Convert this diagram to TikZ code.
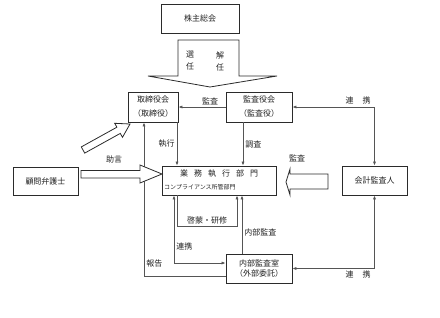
\documentclass[tikz,border=0pt]{standalone}
\usepackage{fontspec}
\setmainfont{Noto Sans CJK JP}
\usepackage{xcolor}
\usetikzlibrary{arrows.meta,calc,positioning}
\definecolor{boxBlack}{HTML}{2B2B2B}
\definecolor{lineGray}{HTML}{555555}
\definecolor{textDark}{HTML}{222222}

\begin{document}
\begin{tikzpicture}[x=1pt,y=-1pt,>={Latex[length=4pt,width=3.2pt]},
    orgbox/.style={draw=boxBlack,line width=0.9pt,fill=white,align=center,
      font=\fontsize{8}{10}\selectfont,text=textDark,inner sep=0pt},
    link/.style={lineGray,line width=0.7pt},
    tag/.style={font=\fontsize{8}{12}\selectfont,text=textDark,inner sep=2pt},
    hollow/.style={draw=boxBlack,line width=0.8pt,fill=white,line join=miter}]
    \useasboundingbox (0,0) rectangle (440,317);
    % boxes
    \node[orgbox,minimum width=78,minimum height=29] (soukai) at (200,18.5) {株主総会};
    \node[orgbox,minimum width=50,minimum height=30] (torishimari) at (153,107)
      {取締役会\\[4pt]（取締役）};
    \node[orgbox,minimum width=66,minimum height=30] (kansa) at (259,107)
      {監査役会\\[4pt]（監査役）};
    \node[orgbox,minimum width=65,minimum height=28] (komon) at (45.5,181) {顧問弁護士};
    \node[orgbox,minimum width=114,minimum height=29] (gyomu) at (219,180.5) {};
    \node[tag] (gyomuTitle) at (219,174)
      {業\hspace{6pt}務\hspace{6pt}執\hspace{6pt}行\hspace{6pt}部\hspace{6pt}門};
    \node[tag,font=\fontsize{6}{7}\selectfont,anchor=west,inner sep=0pt] (gyomuSub)
      at (164,187) {コンプライアンス所管部門};
    \node[orgbox,minimum width=65,minimum height=29] (kaikei) at (374.5,180.5) {会計監査人};
    \node[orgbox,minimum width=66,minimum height=29] (naibu) at (259,268.5)
      {内部監査室\\[0pt]（外部委託）};
    % connectors
    \draw[link,->] (kansa.west) -- (torishimari.east)
      node[tag,pos=0.33,above] (kansaTag) {監査};
    \draw[link,<->] (kansa.east) -| (kaikei.north)
      node[tag,pos=0.4,above] (renkeiTop) {連\hspace{9pt}携};
    \draw[link,<->] (naibu.east) -| (kaikei.south)
      node[tag,pos=0.4,below] (renkeiLow) {連\hspace{9pt}携};
    \draw[link,->] ([xshift=24pt]torishimari.south) -- ([xshift=24pt]torishimari.south |- gyomu.north)
      node[tag,midway,left] (shikkoTag) {執行};
    \draw[link,->] ([xshift=-16pt]kansa.south) -- ([xshift=-16pt]kansa.south |- gyomu.north)
      node[tag,midway,right] (chosaTag) {調査};
    \draw[link,->] ([yshift=-7.5pt]naibu.west) -| ([xshift=-9pt]torishimari.south)
      node[tag,pos=0.54,right] (hokokuTag) {報告};
    \draw[link,<->] ([xshift=-45pt]gyomu.south) |- ([yshift=5.5pt]naibu.west)
      node[tag,pos=0.38,right] (renkeiMid) {連携};
    \draw[link,->] ([xshift=-42pt]gyomu.south) -- ++(0,31) -| ([xshift=18pt]gyomu.south)
      node[tag,pos=0.25,above] (keimoTag) {啓蒙・研修};
    \draw[link,->] ([xshift=-17pt]naibu.north) -- ([xshift=-17pt]naibu.north |- gyomu.south)
      node[tag,pos=0.37,right] (naibuTag) {内部監査};
    % hollow arrows
    \draw[hollow] (178,40) -- (239,40) -- (239,76) -- (277,76) -- (210,87)
      -- (148,76) -- (178,76) -- cycle;
    \node[tag,align=center] (senninTag) at (190,61) {選\\任};
    \node[tag,align=center] (kaininTag) at (220,61) {解\\任};
    \draw[hollow] (81,170.5) -- (140,170.5) -- (140,165) -- (162,174)
      -- (140,183) -- (140,178) -- (81,178) -- cycle;
    \draw[hollow] (81.3,146.9) -- (116.9,127.2) -- (114.7,123.3) -- (130,124)
      -- (122.5,137.3) -- (120.3,133.4) -- (84.7,153.1) -- cycle;
    \node[tag] (jogenTag) at (114,159) {助言};
    \draw[hollow] (328,174) -- (290,174) -- (290,169) -- (286,182)
      -- (290,195) -- (290,189) -- (328,189) -- cycle;
    \node[tag] (kansaSide) at (297,158) {監査};
\end{tikzpicture}
\end{document}
